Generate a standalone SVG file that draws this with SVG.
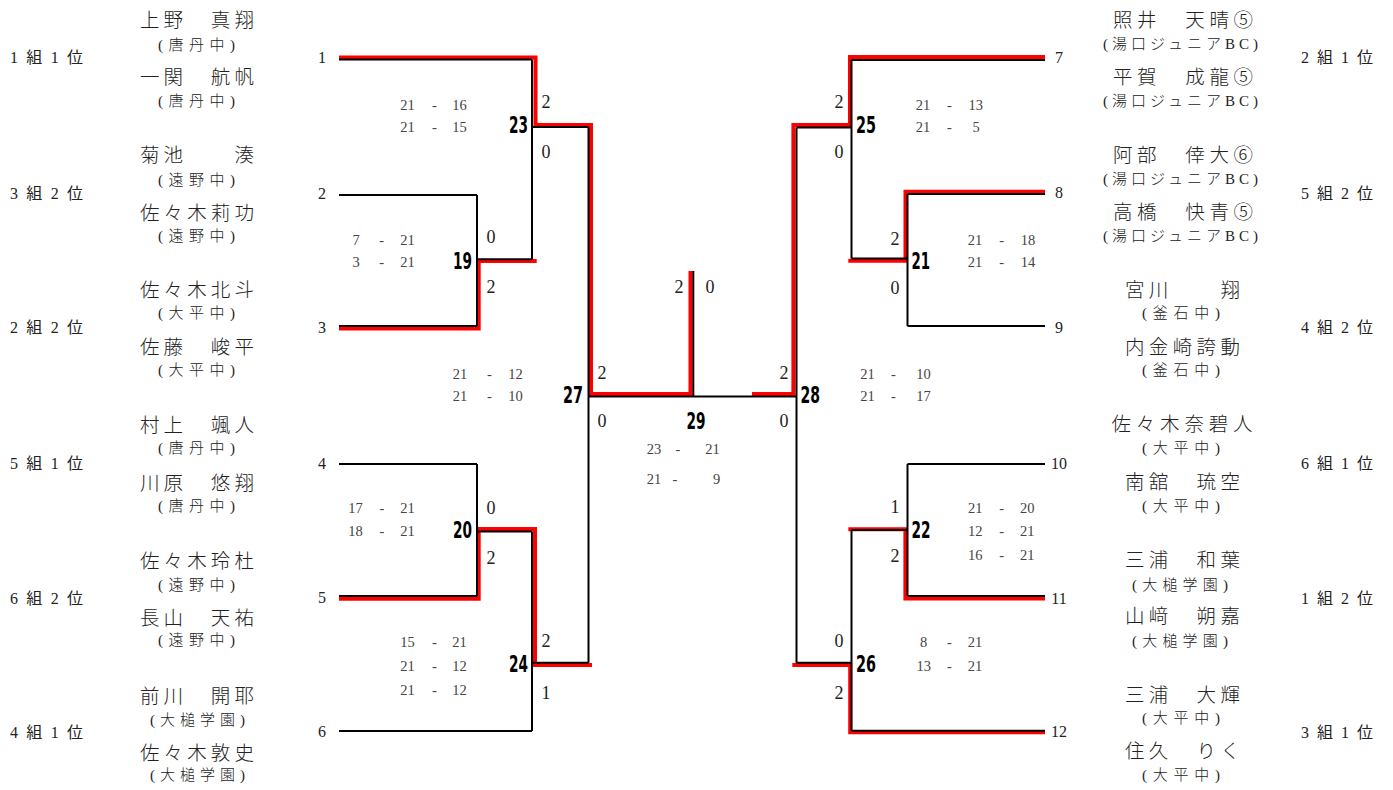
<svg xmlns="http://www.w3.org/2000/svg" width="1393" height="790" viewBox="0 0 1393 790">
<style>
text{dominant-baseline:central}
.nm{font-family:"Noto Sans CJK JP",sans-serif;font-size:19.5px;fill:#222;text-anchor:middle;font-weight:300}
.sc{font-family:"Liberation Serif","Noto Sans CJK JP",serif;font-size:15px;fill:#222;text-anchor:middle;font-weight:300}
.grp{font-family:"Liberation Serif","Noto Sans CJK JP",serif;font-size:16px;fill:#222}
.pn{font-family:"Liberation Serif",serif;font-size:16px;fill:#222;text-anchor:middle}
.set{font-family:"Liberation Serif",serif;font-size:18px;fill:#222;text-anchor:middle}
.pt{font-family:"Liberation Serif",serif;font-size:14.5px;fill:#444;text-anchor:middle}
.mn{font-family:"DejaVu Sans",sans-serif;font-size:23px;font-weight:bold;fill:#000}
.red{fill:none;stroke:#f00;stroke-width:4;stroke-linejoin:miter}
.blk{fill:none;stroke:#000;stroke-width:2;stroke-linejoin:miter}
</style>

<g id="connectors">
  <g id="red-paths">
    <path class="red" d="M339,57.5 H535.5 V125 H591 V394 H690.5 V271"/>
    <path class="red" d="M339,328.4 H478.7 V261 H536.7"/>
    <path class="red" d="M339,598.7 H478.7 V529 H535 V665 H592"/>
    <path class="red" d="M1045,57 H850 V125 H793.4 V394 H752"/>
    <path class="red" d="M1045,191.7 H905.5 V260.8 H848.3"/>
    <path class="red" d="M1045,598.4 H905.4 V529.3 H848.3"/>
    <path class="red" d="M1045,732.3 H850.2 V665 H792.3"/>
  </g>
  <g id="black-paths">
    <path class="blk" d="M339,59.5 H532"/>
    <path class="blk" d="M339,195 H477"/>
    <path class="blk" d="M339,326 H477"/>
    <path class="blk" d="M477,195 V326 M477,259.2 H532"/>
    <path class="blk" d="M532,59.5 V259.2 M532,127 H588.5"/>
    <path class="blk" d="M339,464 H477"/>
    <path class="blk" d="M339,596 H477"/>
    <path class="blk" d="M477,464 V596 M477,531.5 H532"/>
    <path class="blk" d="M339,731 H532"/>
    <path class="blk" d="M532,531.5 V731 M532,662.8 H588.5"/>
    <path class="blk" d="M588.5,127 V662.8 M588.5,396.5 H796.5"/>
    <path class="blk" d="M693.3,271 V396.5"/>
    <path class="blk" d="M851.5,60 H1045"/>
    <path class="blk" d="M907.5,194 H1045"/>
    <path class="blk" d="M907.5,326 H1045"/>
    <path class="blk" d="M907.5,194 V326 M907.5,258.6 H851.5"/>
    <path class="blk" d="M851.5,60 V258.6 M851.5,127.5 H796.5"/>
    <path class="blk" d="M907.5,464 H1045"/>
    <path class="blk" d="M907.5,596 H1045"/>
    <path class="blk" d="M907.5,464 V596 M907.5,530 H851.5"/>
    <path class="blk" d="M851.5,730.8 H1045"/>
    <path class="blk" d="M851.5,530 V730.8 M851.5,662.8 H796.5"/>
    <path class="blk" d="M796.5,127.5 V662.8"/>
  </g>
</g>

<g id="entry-L1">
  <text class="grp" x="10" y="57" textLength="73">1組1位</text>
  <text class="nm" x="197" y="18" textLength="114">上野　真翔</text>
  <text class="sc" x="196.5" y="45" textLength="77">(唐丹中)</text>
  <text class="nm" x="197" y="75" textLength="114">一関　航帆</text>
  <text class="sc" x="196.5" y="101" textLength="77">(唐丹中)</text>
  <text class="pn" x="322" y="57">1</text>
</g>
<g id="entry-L2">
  <text class="grp" x="10" y="193" textLength="73">3組2位</text>
  <text class="nm" x="197" y="153" textLength="114">菊池　　湊</text>
  <text class="sc" x="196.5" y="180" textLength="77">(遠野中)</text>
  <text class="nm" x="197" y="211" textLength="114">佐々木莉功</text>
  <text class="sc" x="196.5" y="236" textLength="77">(遠野中)</text>
  <text class="pn" x="322" y="193">2</text>
</g>
<g id="entry-L3">
  <text class="grp" x="10" y="327" textLength="73">2組2位</text>
  <text class="nm" x="197" y="288" textLength="114">佐々木北斗</text>
  <text class="sc" x="196.5" y="313" textLength="77">(大平中)</text>
  <text class="nm" x="197" y="345" textLength="114">佐藤　峻平</text>
  <text class="sc" x="196.5" y="370" textLength="77">(大平中)</text>
  <text class="pn" x="322" y="327">3</text>
</g>
<g id="entry-L4">
  <text class="grp" x="10" y="463" textLength="73">5組1位</text>
  <text class="nm" x="197" y="423" textLength="114">村上　颯人</text>
  <text class="sc" x="196.5" y="448" textLength="77">(唐丹中)</text>
  <text class="nm" x="197" y="481" textLength="114">川原　悠翔</text>
  <text class="sc" x="196.5" y="506" textLength="77">(唐丹中)</text>
  <text class="pn" x="322" y="463">4</text>
</g>
<g id="entry-L5">
  <text class="grp" x="10" y="598" textLength="73">6組2位</text>
  <text class="nm" x="197" y="559" textLength="114">佐々木玲杜</text>
  <text class="sc" x="196.5" y="585" textLength="77">(遠野中)</text>
  <text class="nm" x="197" y="616" textLength="114">長山　天祐</text>
  <text class="sc" x="196.5" y="640" textLength="77">(遠野中)</text>
  <text class="pn" x="322" y="597">5</text>
</g>
<g id="entry-L6">
  <text class="grp" x="10" y="732" textLength="73">4組1位</text>
  <text class="nm" x="197" y="694" textLength="114">前川　開耶</text>
  <text class="sc" x="197.5" y="720" textLength="95">(大槌学園)</text>
  <text class="nm" x="197" y="751" textLength="114">佐々木敦史</text>
  <text class="sc" x="197.5" y="775" textLength="95">(大槌学園)</text>
  <text class="pn" x="322" y="731">6</text>
</g>

<g id="entry-R7">
  <text class="grp" x="1301" y="57" textLength="72">2組1位</text>
  <text class="nm" x="1183" y="18" textLength="140">照井　天晴⑤</text>
  <text class="sc" x="1180.5" y="44" textLength="155">(湯口ジュニアBC)</text>
  <text class="nm" x="1183" y="75" textLength="140">平賀　成龍⑤</text>
  <text class="sc" x="1180.5" y="101" textLength="155">(湯口ジュニアBC)</text>
  <text class="pn" x="1059" y="57">7</text>
</g>
<g id="entry-R8">
  <text class="grp" x="1301" y="193" textLength="72">5組2位</text>
  <text class="nm" x="1183" y="153" textLength="140">阿部　倖大⑥</text>
  <text class="sc" x="1180.5" y="179" textLength="155">(湯口ジュニアBC)</text>
  <text class="nm" x="1183" y="210" textLength="140">高橋　快青⑤</text>
  <text class="sc" x="1180.5" y="236" textLength="155">(湯口ジュニアBC)</text>
  <text class="pn" x="1059" y="192">8</text>
</g>
<g id="entry-R9">
  <text class="grp" x="1301" y="327" textLength="72">4組2位</text>
  <text class="nm" x="1182.5" y="288" textLength="115">宮川　　翔</text>
  <text class="sc" x="1181" y="313" textLength="78">(釜石中)</text>
  <text class="nm" x="1182.5" y="345" textLength="115">内金崎誇動</text>
  <text class="sc" x="1181" y="370" textLength="78">(釜石中)</text>
  <text class="pn" x="1059" y="327">9</text>
</g>
<g id="entry-R10">
  <text class="grp" x="1301" y="463" textLength="72">6組1位</text>
  <text class="nm" x="1182" y="422" textLength="141">佐々木奈碧人</text>
  <text class="sc" x="1181" y="448" textLength="78">(大平中)</text>
  <text class="nm" x="1182.5" y="480" textLength="115">南舘　琉空</text>
  <text class="sc" x="1181" y="506" textLength="78">(大平中)</text>
  <text class="pn" x="1059" y="463">10</text>
</g>
<g id="entry-R11">
  <text class="grp" x="1301" y="598" textLength="72">1組2位</text>
  <text class="nm" x="1182.5" y="558" textLength="115">三浦　和葉</text>
  <text class="sc" x="1180" y="585" textLength="96">(大槌学園)</text>
  <text class="nm" x="1182.5" y="614" textLength="115">山﨑　朔嘉</text>
  <text class="sc" x="1180" y="641" textLength="96">(大槌学園)</text>
  <text class="pn" x="1059" y="598">11</text>
</g>
<g id="entry-R12">
  <text class="grp" x="1301" y="732" textLength="72">3組1位</text>
  <text class="nm" x="1182.5" y="693" textLength="115">三浦　大輝</text>
  <text class="sc" x="1181" y="718" textLength="78">(大平中)</text>
  <text class="nm" x="1182.5" y="749" textLength="115">住久　りく</text>
  <text class="sc" x="1181" y="775" textLength="78">(大平中)</text>
  <text class="pn" x="1059" y="731">12</text>
</g>

<g id="match-19">
  <text class="mn" x="472" y="261" text-anchor="end" textLength="19" lengthAdjust="spacingAndGlyphs">19</text>
  <text class="set" x="491" y="237">0</text><text class="set" x="491" y="287">2</text>
  <text class="pt" x="356" y="240">7</text><text class="pt" x="381.7" y="240">-</text><text class="pt" x="407.5" y="240">21</text>
  <text class="pt" x="356" y="262">3</text><text class="pt" x="381.7" y="262">-</text><text class="pt" x="407.5" y="262">21</text>
</g>
<g id="match-20">
  <text class="mn" x="472" y="530" text-anchor="end" textLength="19" lengthAdjust="spacingAndGlyphs">20</text>
  <text class="set" x="491" y="507.5">0</text><text class="set" x="491" y="557.5">2</text>
  <text class="pt" x="355.5" y="508">17</text><text class="pt" x="382" y="508">-</text><text class="pt" x="407.5" y="508">21</text>
  <text class="pt" x="355.5" y="530.5">18</text><text class="pt" x="382" y="530.5">-</text><text class="pt" x="407.5" y="530.5">21</text>
</g>
<g id="match-23">
  <text class="mn" x="528" y="125" text-anchor="end" textLength="19" lengthAdjust="spacingAndGlyphs">23</text>
  <text class="set" x="546" y="101.5">2</text><text class="set" x="546" y="152">0</text>
  <text class="pt" x="407.5" y="105">21</text><text class="pt" x="434.5" y="105">-</text><text class="pt" x="459.5" y="105">16</text>
  <text class="pt" x="407.5" y="127">21</text><text class="pt" x="434.5" y="127">-</text><text class="pt" x="459.5" y="127">15</text>
</g>
<g id="match-24">
  <text class="mn" x="528" y="664" text-anchor="end" textLength="19" lengthAdjust="spacingAndGlyphs">24</text>
  <text class="set" x="546" y="641">2</text><text class="set" x="546" y="692.5">1</text>
  <text class="pt" x="407.5" y="641.5">15</text><text class="pt" x="434.5" y="641.5">-</text><text class="pt" x="459.5" y="641.5">21</text>
  <text class="pt" x="407.5" y="666">21</text><text class="pt" x="434.5" y="666">-</text><text class="pt" x="459.5" y="666">12</text>
  <text class="pt" x="407.5" y="690">21</text><text class="pt" x="434.5" y="690">-</text><text class="pt" x="459.5" y="690">12</text>
</g>
<g id="match-27">
  <text class="mn" x="583" y="395" text-anchor="end" textLength="20" lengthAdjust="spacingAndGlyphs">27</text>
  <text class="set" x="602" y="373">2</text><text class="set" x="602" y="421">0</text>
  <text class="pt" x="460" y="374">21</text><text class="pt" x="489.3" y="374">-</text><text class="pt" x="515.5" y="374">12</text>
  <text class="pt" x="460" y="396">21</text><text class="pt" x="489.3" y="396">-</text><text class="pt" x="515.5" y="396">10</text>
</g>
<g id="match-29">
  <text class="mn" x="696" y="421" text-anchor="middle" textLength="19" lengthAdjust="spacingAndGlyphs">29</text>
  <text class="set" x="679" y="286.7">2</text><text class="set" x="710" y="286.7">0</text>
  <text class="pt" x="654" y="448.5">23</text><text class="pt" x="678" y="448.5">-</text><text class="pt" x="712.5" y="448.5">21</text>
  <text class="pt" x="654" y="478.5">21</text><text class="pt" x="675" y="478.5">-</text><text class="pt" x="716.7" y="478.5">9</text>
</g>
<g id="match-28">
  <text class="mn" x="800.5" y="395" textLength="19.5" lengthAdjust="spacingAndGlyphs">28</text>
  <text class="set" x="784" y="373">2</text><text class="set" x="784" y="421">0</text>
  <text class="pt" x="867.5" y="374">21</text><text class="pt" x="893.3" y="374">-</text><text class="pt" x="923.5" y="374">10</text>
  <text class="pt" x="867.5" y="396">21</text><text class="pt" x="893.3" y="396">-</text><text class="pt" x="923.5" y="396">17</text>
</g>
<g id="match-25">
  <text class="mn" x="856" y="125" textLength="20" lengthAdjust="spacingAndGlyphs">25</text>
  <text class="set" x="839" y="101.5">2</text><text class="set" x="839" y="152">0</text>
  <text class="pt" x="923" y="105">21</text><text class="pt" x="949.3" y="105">-</text><text class="pt" x="975.7" y="105">13</text>
  <text class="pt" x="923" y="127">21</text><text class="pt" x="949.3" y="127">-</text><text class="pt" x="976" y="127">5</text>
</g>
<g id="match-21">
  <text class="mn" x="911.5" y="261" textLength="18.5" lengthAdjust="spacingAndGlyphs">21</text>
  <text class="set" x="895" y="239">2</text><text class="set" x="895" y="288">0</text>
  <text class="pt" x="975" y="240">21</text><text class="pt" x="1001.7" y="240">-</text><text class="pt" x="1028" y="240">18</text>
  <text class="pt" x="975" y="262">21</text><text class="pt" x="1001.7" y="262">-</text><text class="pt" x="1028" y="262">14</text>
</g>
<g id="match-22">
  <text class="mn" x="911.5" y="530" textLength="19" lengthAdjust="spacingAndGlyphs">22</text>
  <text class="set" x="895" y="506.7">1</text><text class="set" x="895" y="556">2</text>
  <text class="pt" x="975.3" y="508.3">21</text><text class="pt" x="1001.7" y="508.3">-</text><text class="pt" x="1027.3" y="508.3">20</text>
  <text class="pt" x="975.3" y="530.7">12</text><text class="pt" x="1001.7" y="530.7">-</text><text class="pt" x="1027.3" y="530.7">21</text>
  <text class="pt" x="975.3" y="555">16</text><text class="pt" x="1001.7" y="555">-</text><text class="pt" x="1027.3" y="555">21</text>
</g>
<g id="match-26">
  <text class="mn" x="856" y="664" textLength="20" lengthAdjust="spacingAndGlyphs">26</text>
  <text class="set" x="839" y="641">0</text><text class="set" x="839" y="692.5">2</text>
  <text class="pt" x="923.7" y="641.7">8</text><text class="pt" x="949.3" y="641.7">-</text><text class="pt" x="975" y="641.7">21</text>
  <text class="pt" x="923.7" y="666">13</text><text class="pt" x="949.3" y="666">-</text><text class="pt" x="975" y="666">21</text>
</g>
</svg>
